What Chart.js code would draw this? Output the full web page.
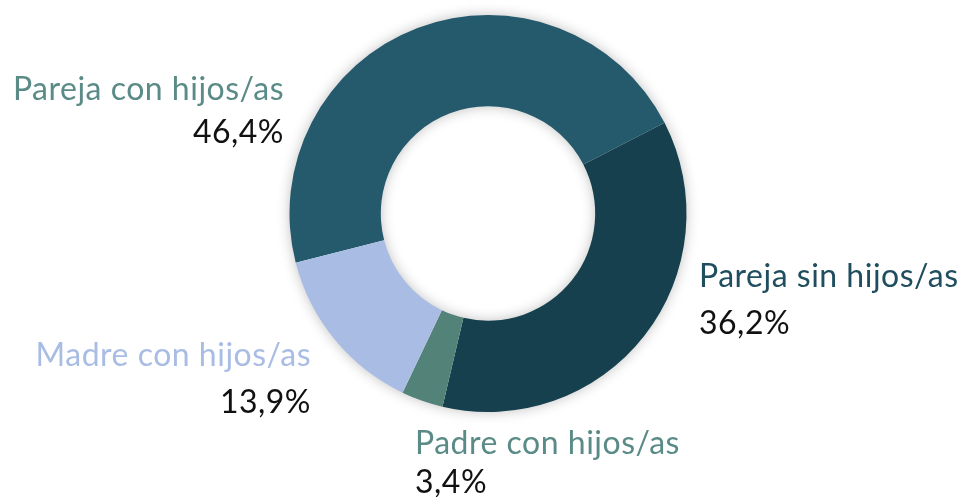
<!DOCTYPE html>
<html>
<head>
<meta charset="utf-8">
<script src="https://cdn.jsdelivr.net/npm/chart.js@4/dist/chart.umd.min.js"></script>
<style>
  html, body { margin: 0; padding: 0; background: #fff; }
  #wrap { width: 961px; height: 497px; position: relative; }
</style>
</head>
<body>
<div id="wrap"><canvas id="chart"></canvas></div>
<script>
const categories = ['Pareja con hijos/as', 'Pareja sin hijos/as', 'Padre con hijos/as', 'Madre con hijos/as'];
const values = [46.4, 36.2, 3.4, 13.9];
const valueLabels = ['46,4%', '36,2%', '3,4%', '13,9%'];
const sliceColors = ['#255a6c', '#16404d', '#538279', '#a9bde4'];
const labelColors = ['#5b8b86', '#1f4e5e', '#5b8b86', '#a9bde4'];

// label anchors relative to the donut centre: [dx, dy of name baseline, dy of value baseline, align]
const labelPlaces = [
    [-204, -114, -71, 'right'],
    [211, 73, 120, 'left'],
    [-73, 240, 279, 'left'],
    [-177, 152, 199, 'right']
];

const ringShadow = {
    id: 'ringShadow',
    beforeDatasetsDraw(chart) {
        const arc = chart.getDatasetMeta(0).data[0];
        if (!arc) return;
        const ctx = chart.ctx;
        ctx.save();
        ctx.shadowColor = 'rgba(0,0,0,0.28)';
        ctx.shadowBlur = 14;
        ctx.fillStyle = '#fff';
        ctx.beginPath();
        ctx.arc(arc.x, arc.y, arc.outerRadius - 1, 0, Math.PI * 2);
        ctx.arc(arc.x, arc.y, arc.innerRadius + 1, 0, Math.PI * 2, true);
        ctx.fill();
        ctx.restore();
    }
};

const sliceLabels = {
    id: 'sliceLabels',
    afterDraw(chart) {
        const arc = chart.getDatasetMeta(0).data[0];
        if (!arc) return;
        const ctx = chart.ctx;
        ctx.save();
        ctx.font = '400 32px Lato, sans-serif';
        ctx.letterSpacing = '0.5px';
        ctx.textBaseline = 'alphabetic';
        categories.forEach((name, i) => {
            const [dx, dyName, dyVal, align] = labelPlaces[i];
            ctx.textAlign = align;
            ctx.fillStyle = labelColors[i];
            ctx.fillText(name, arc.x + dx, arc.y + dyName);
            ctx.fillStyle = '#111';
            ctx.fillText(valueLabels[i], arc.x + dx, arc.y + dyVal);
        });
        ctx.restore();
    }
};

new Chart(document.getElementById('chart'), {
    type: 'doughnut',
    data: {
        labels: categories,
        datasets: [{
            data: values,
            backgroundColor: sliceColors,
            borderColor: sliceColors,
            borderWidth: 0
        }]
    },
    options: {
        responsive: true,
        maintainAspectRatio: false,
        animation: false,
        rotation: 255.6,
        cutout: '54%',
        layout: { padding: { top: 15, bottom: 85, left: 15, right: 0 } },
        plugins: {
            legend: { display: false },
            tooltip: { enabled: false }
        }
    },
    plugins: [ringShadow, sliceLabels]
});
</script>
</body>
</html>
